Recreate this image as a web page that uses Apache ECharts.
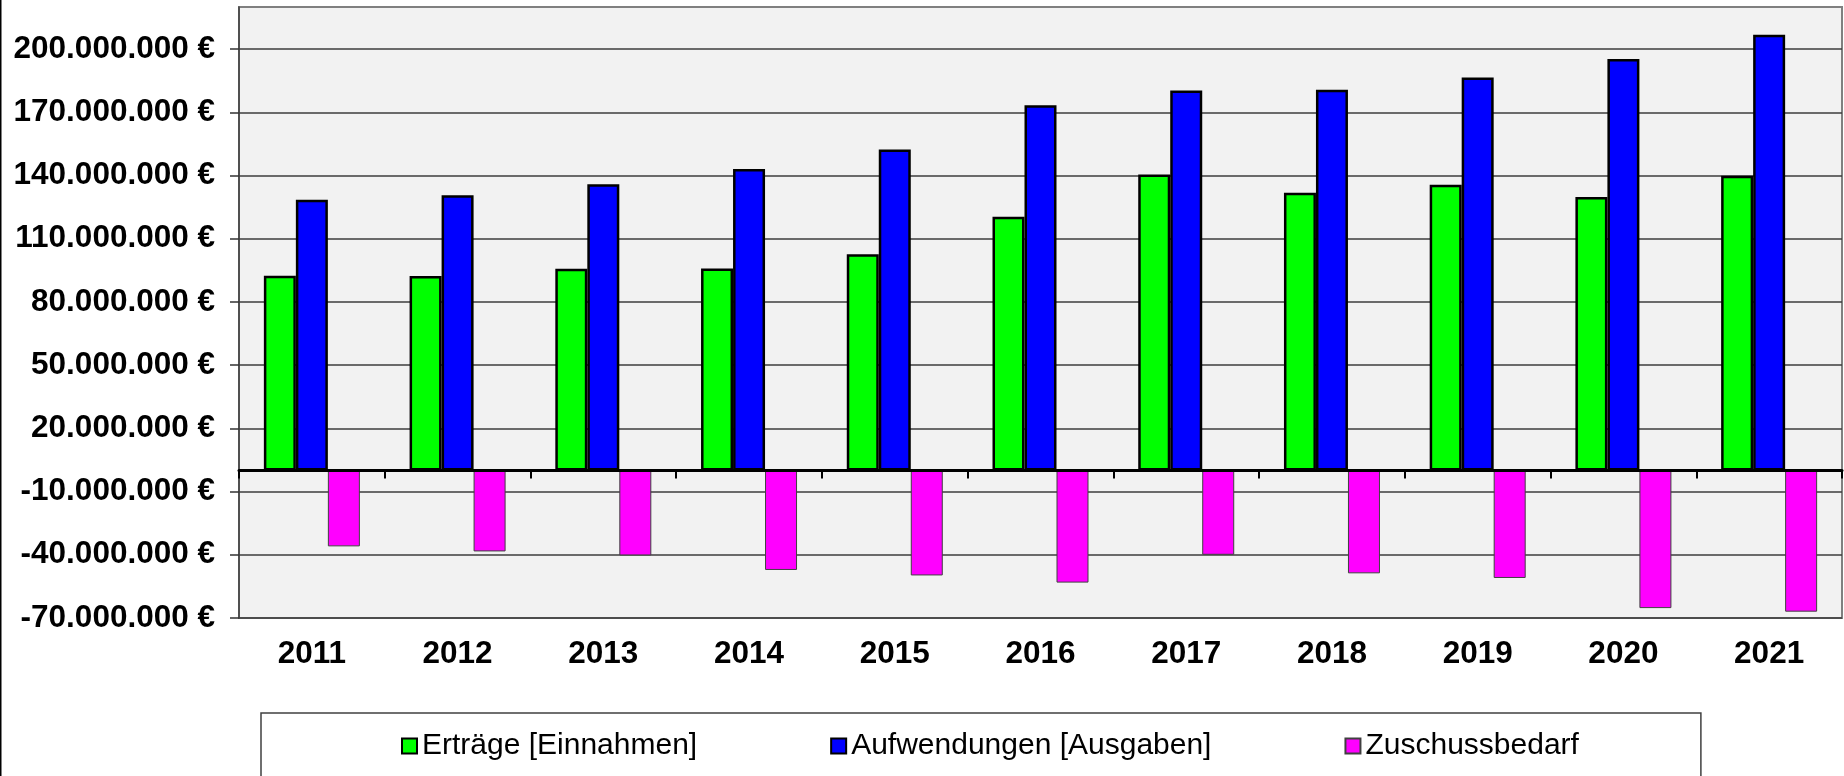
<!DOCTYPE html>
<html><head><meta charset="utf-8">
<script src="https://cdn.jsdelivr.net/npm/echarts@6/dist/echarts.min.js"></script>
<style>html,body{margin:0;padding:0;background:#fff}#c{width:1844px;height:776px}</style>
</head><body><div id="c"></div>
<script>
// Categories (years)
const categories = ['2011','2012','2013','2014','2015','2016','2017','2018','2019','2020','2021'];
// Series names
const seriesNames = ['Erträge [Einnahmen]', 'Aufwendungen [Ausgaben]', 'Zuschussbedarf'];
// Series values in €
const ertraege = [92400000, 92300000, 95800000, 95900000, 102700000, 120400000, 140500000, 131800000, 135600000, 129800000, 139900000];
const aufwendungen = [128500000, 130700000, 135900000, 143100000, 152400000, 173400000, 180400000, 180700000, 186500000, 195300000, 206800000];
const zuschussbedarf = [-36000000, -38400000, -40300000, -47200000, -49800000, -53200000, -40000000, -48800000, -51000000, -65300000, -67000000];
// Value axis tick values (labelled ticks)
const yTickValues = [-70000000, -40000000, -10000000, 20000000, 50000000, 80000000, 110000000, 140000000, 170000000, 200000000];
const yMin = -70000000;
const yMax = 220000000;
const yStep = 30000000;

function fmt(v) {
  const s = Math.abs(Math.round(v)).toString().replace(/\B(?=(\d{3})+(?!\d))/g, '.');
  return (v < 0 ? '-' : '') + s + ' €';
}

const FONT = '"Liberation Sans", Arial, sans-serif';
const chart = echarts.init(document.getElementById('c'), null, {renderer: 'canvas'});
const option = {
  animation: false,
  backgroundColor: '#ffffff',
  graphic: [{
    type: 'rect', left: 0, top: 0, z: 100,
    shape: {x: 0, y: 0, width: 1.5, height: 776},
    style: {fill: '#000'}
  }],
  grid: {
    left: 239, top: 7, width: 1603, height: 611,
    show: true, backgroundColor: '#f2f2f2', borderColor: '#808080', borderWidth: 2
  },
  legend: {
    data: seriesNames,
    left: 261, top: 713,
    padding: [18, 122, 40, 140],
    itemGap: 133, itemWidth: 15, itemHeight: 15,
    icon: 'rect',
    borderColor: '#404040', borderWidth: 1.5, backgroundColor: '#ffffff',
    textStyle: {fontFamily: FONT, fontSize: 30, color: '#000'}
  },
  xAxis: [{
    type: 'category', data: categories, position: 'bottom',
    axisLine: {show: false, onZero: false},
    axisTick: {show: false},
    splitLine: {show: false},
    axisLabel: {fontFamily: FONT, fontWeight: 'bold', fontSize: 31.5, color: '#000', margin: 20}
  }, {
    type: 'category', data: categories, position: 'top', z: 10,
    axisLine: {show: true, onZero: true, lineStyle: {color: '#000', width: 3}},
    axisTick: {show: true, inside: true, length: 8, lineStyle: {color: '#000', width: 2}},
    axisLabel: {show: false},
    splitLine: {show: false}
  }],
  yAxis: {
    type: 'value', min: yMin, max: yMax, interval: yStep,
    axisLine: {show: true, lineStyle: {color: '#404040', width: 1.5}},
    axisTick: {show: true, length: 9, customValues: yTickValues, lineStyle: {color: '#333', width: 1.5}},
    splitLine: {show: true, lineStyle: {color: '#3c3c3c', width: 1.5}},
    axisLabel: {
      customValues: yTickValues,
      formatter: function (v) { return fmt(v); },
      fontFamily: FONT, fontWeight: 'bold', fontSize: 31.5, color: '#000', margin: 24
    }
  },
  series: [{
    name: seriesNames[0], type: 'bar', xAxisIndex: 0, data: ertraege,
    barWidth: 32, barGap: '0%',
    itemStyle: {color: '#00ff00', borderColor: '#000', borderWidth: 2.5}
  }, {
    name: seriesNames[1], type: 'bar', xAxisIndex: 0, data: aufwendungen,
    barWidth: 32, barGap: '0%',
    itemStyle: {color: '#0000ff', borderColor: '#000', borderWidth: 2.5}
  }, {
    name: seriesNames[2], type: 'bar', xAxisIndex: 0, data: zuschussbedarf,
    barWidth: 32, barGap: '0%',
    itemStyle: {color: '#ff00ff', borderColor: '#404040', borderWidth: 1}
  }]
};
chart.setOption(option);
</script>
</body></html>
